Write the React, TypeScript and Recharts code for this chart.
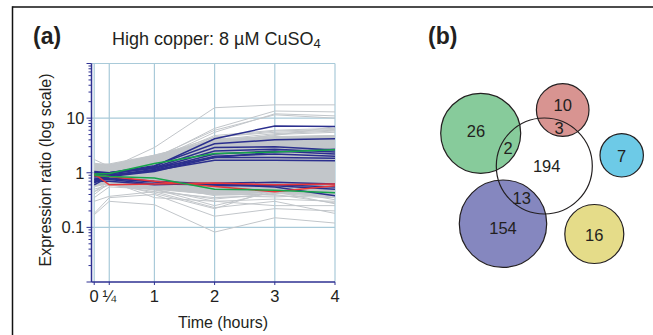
import React from 'react';
import { ComposedChart, Line, Area, XAxis, YAxis, CartesianGrid, ScatterChart, Scatter } from 'recharts';

// ---------- Panel (a) data ----------
const TIMES = [0, 0.25, 1, 2, 3, 4];
const TIME_LABELS = ['0', '¼', '1', '2', '3', '4'];
const Y_TICKS = [
  0.01, 0.02, 0.03, 0.04, 0.05, 0.06, 0.07, 0.08, 0.09,
  0.1, 0.2, 0.3, 0.4, 0.5, 0.6, 0.7, 0.8, 0.9,
  1, 2, 3, 4, 5, 6, 7, 8, 9,
  10, 20, 30, 40, 50, 60, 70, 80, 90, 100,
];
const Y_LABELS = [0.1, 1, 10];
const GRID_Y = [0.1, 1, 10, 100];

// dense core of grey profiles (min / max at each time point)
const BAND_LOW = [0.58, 0.62, 0.5, 0.4, 0.43, 0.38];
const BAND_HIGH = [1.45, 1.45, 2.1, 4.0, 4.5, 4.8];

// individual grey profiles (values at 0, 1/4, 1, 2, 3, 4 h)
const GREY_LINES = [
  [1.1, 1.2, 2.9, 15.5, 17.5, 17.5],
  [1.0, 1.1, 1.8, 6.5, 13.5, 13.0],
  [1.0, 1.1, 1.7, 5.5, 12.0, 11.0],
  [1.05, 1.1, 1.9, 6.0, 11.5, 10.0],
  [1.0, 1.1, 1.7, 4.8, 6.0, 6.5],
  [0.95, 1.05, 1.6, 4.5, 5.5, 6.0],
  [1.0, 1.1, 1.5, 4.0, 5.2, 5.8],
  [0.9, 1.0, 1.4, 3.5, 5.0, 5.5],
  [0.95, 1.0, 1.5, 3.8, 4.8, 7.0],
  [1.05, 1.1, 1.8, 4.2, 4.6, 4.8],
  [1.75, 1.3, 1.5, 2.5, 3.0, 3.5],
  [1.5, 1.35, 2.1, 3.8, 3.5, 3.0],
  [1.2, 1.25, 2.0, 4.5, 5.8, 6.2],
  [0.17, 0.3, 0.26, 0.082, 0.15, 0.12],
  [0.18, 0.35, 0.4, 0.16, 0.22, 0.2],
  [0.3, 0.37, 0.45, 0.23, 0.3, 0.18],
  [0.35, 0.55, 0.5, 0.25, 0.45, 0.27],
  [0.45, 0.6, 0.5, 0.3, 0.33, 0.3],
  [0.5, 0.6, 0.45, 0.35, 0.38, 0.35],
  [0.55, 0.65, 0.42, 0.22, 0.5, 0.32],
  [0.4, 0.65, 0.6, 0.38, 0.36, 0.4],
  [0.6, 0.7, 0.35, 0.3, 0.25, 0.25],
  [0.45, 0.7, 0.52, 0.4, 0.4, 0.28],
  [0.7, 0.62, 0.48, 0.33, 0.42, 0.36],
];

const BLUE_LINES = [
  [0.9, 0.95, 1.3, 4.2, 7.2, 7.0],
  [1.0, 1.0, 1.35, 3.4, 4.0, 4.2],
  [0.85, 0.95, 1.25, 2.9, 3.0, 2.6],
  [0.95, 1.0, 1.2, 2.5, 2.7, 2.4],
  [0.75, 0.9, 1.15, 2.2, 2.5, 2.2],
  [0.65, 0.9, 1.1, 2.0, 2.2, 2.0],
  [0.6, 0.85, 1.05, 1.9, 1.9, 1.85],
  [0.7, 0.88, 1.1, 1.7, 1.7, 1.65],
  [1.05, 1.0, 1.25, 1.9, 2.4, 2.7],
  [0.75, 0.75, 0.62, 0.6, 0.6, 0.55],
  [0.7, 0.7, 0.6, 0.64, 0.67, 0.62],
  [0.8, 0.78, 0.68, 0.58, 0.58, 0.5],
  [0.9, 0.8, 0.7, 0.62, 0.55, 0.38],
];

const GREEN_LINES = [
  [0.95, 0.97, 1.48, 2.25, 2.4, 2.65],
  [0.9, 0.85, 0.8, 0.5, 0.48, 0.43],
];

const RED_LINES = [
  [0.95, 0.6, 0.62, 0.65, 0.6, 0.62],
  [0.88, 0.85, 0.7, 0.56, 0.45, 0.58],
];

// ---------- Panel (b) data ----------
const CIRCLE_NAMES = ['green', 'red', 'cyan', 'purple', 'yellow', 'white'];
const CIRCLE_X = [-6.36, 1.84, 7.74, -4.13, 5.0, 0];
const CIRCLE_Y = [-3.27, -5.6, -1.07, 5.77, 6.8, 0];
const CIRCLE_R = [4.0, 2.63, 2.17, 4.37, 2.95, 4.8];
const CIRCLE_FILLS = ['#87cb9b', '#d89491', '#6dcae7', '#8587bf', '#e5dc89', 'none'];

const REGION_COUNTS = [26, 10, 3, 2, 194, 7, 13, 154, 16];
const REGION_X = [-6.83, 1.84, 1.47, -3.63, 0.24, 7.74, -2.26, -4.13, 5.0];
const REGION_Y = [-3.5, -6.1, -3.8, -1.8, 0, -1.03, 3.2, 6.2, 6.87];

// ---------- styles ----------
const FONT = '"Liberation Sans", Arial, Helvetica, sans-serif';
const TEXT = '#231f20';
const AXIS_BLUE = '#2e3192';
const GRID_BLUE = '#a9cad9';
const GREY = '#c2c6ca';
const BLUE = '#2b2f8e';
const GREEN = '#17a54b';
const RED = '#e8383b';

const VENN_W = 253;
const VENN_H = 335;
const VENN_X_DOMAIN = [-14.43, 10.87];
const VENN_Y_DOMAIN = [-16.6, 16.9];
const PX_PER_UNIT = VENN_W / (VENN_X_DOMAIN[1] - VENN_X_DOMAIN[0]);

const rows = TIMES.map((t, i) => {
  const row: any = { t, band: [BAND_LOW[i], BAND_HIGH[i]] };
  GREY_LINES.forEach((s, k) => (row['g' + k] = s[i]));
  BLUE_LINES.forEach((s, k) => (row['b' + k] = s[i]));
  GREEN_LINES.forEach((s, k) => (row['gr' + k] = s[i]));
  RED_LINES.forEach((s, k) => (row['r' + k] = s[i]));
  return row;
});

const circles = CIRCLE_NAMES.map((name, i) => ({
  name,
  x: CIRCLE_X[i],
  y: CIRCLE_Y[i],
  r: CIRCLE_R[i],
  fill: CIRCLE_FILLS[i],
}));

const regions = REGION_COUNTS.map((c, i) => ({ count: c, x: REGION_X[i], y: REGION_Y[i] }));

const XTick = (props: any) => {
  const { x, y, payload } = props;
  const idx = TIMES.indexOf(payload.value);
  return (
    <g>
      <line x1={x} x2={x} y1={y} y2={y + 3} stroke={AXIS_BLUE} strokeWidth={1} />
      <text x={x} y={y + 20} textAnchor="middle" fontFamily={FONT} fontSize={16.5} fill={TEXT}>
        {TIME_LABELS[idx]}
      </text>
    </g>
  );
};

const YTick = (props: any) => {
  const { x, y, payload } = props;
  const v = payload.value;
  const major = Y_LABELS.includes(v) || v === 0.01 || v === 100;
  return (
    <g>
      <line x1={major ? x - 5 : x - 3} x2={x} y1={y} y2={y} stroke={AXIS_BLUE} strokeWidth={1} />
      {Y_LABELS.includes(v) && (
        <text x={x - 7} y={y + 6} textAnchor="end" fontFamily={FONT} fontSize={16.5} fill={TEXT}>
          {String(v)}
        </text>
      )}
    </g>
  );
};

const fillShape = (p: any) =>
  p.payload.fill === 'none' ? (
    <g />
  ) : (
    <circle cx={p.cx} cy={p.cy} r={p.payload.r * PX_PER_UNIT} fill={p.payload.fill} stroke="none" />
  );

const outlineShape = (p: any) => (
  <circle cx={p.cx} cy={p.cy} r={p.payload.r * PX_PER_UNIT} fill="none" stroke={TEXT} strokeWidth={1.2} />
);

const labelShape = (p: any) => (
  <text x={p.cx} y={p.cy + 6} textAnchor="middle" fontFamily={FONT} fontSize={16.5} fill={TEXT}>
    {p.payload.count}
  </text>
);

export default function App() {
  return (
    <div style={{ position: 'absolute', left: 0, top: 0, width: 653, height: 335, background: '#fff', overflow: 'hidden' }}>
      <div style={{ position: 'absolute', left: 0, top: 0 }}>
        <ComposedChart width={340} height={335} data={rows} margin={{ top: 63.5, right: 5, bottom: 0, left: 0 }}>
          <CartesianGrid
            stroke={GRID_BLUE}
            strokeWidth={1.2}
            horizontalValues={GRID_Y}
            verticalValues={TIMES}
          />
          <XAxis
            dataKey="t"
            type="number"
            domain={[-0.045, 4]}
            allowDataOverflow
            ticks={TIMES}
            interval={0}
            height={53}
            tickSize={0}
            tickMargin={0}
            tick={<XTick />}
            axisLine={{ stroke: AXIS_BLUE, strokeWidth: 1.5 }}
            tickLine={false}
          />
          <YAxis
            type="number"
            scale="log"
            domain={[0.01, 100]}
            allowDataOverflow
            ticks={Y_TICKS}
            interval={0}
            width={91.5}
            tickSize={0}
            tickMargin={0}
            tick={<YTick />}
            axisLine={{ stroke: AXIS_BLUE, strokeWidth: 1.5 }}
            tickLine={false}
          />
          <Area
            dataKey="band"
            type="linear"
            fill={GREY}
            fillOpacity={1}
            stroke={GREY}
            strokeWidth={1}
            isAnimationActive={false}
          />
          {GREY_LINES.map((_, k) => (
            <Line key={'g' + k} dataKey={'g' + k} type="linear" stroke={GREY} strokeWidth={1} dot={false} isAnimationActive={false} />
          ))}
          {BLUE_LINES.map((_, k) => (
            <Line key={'b' + k} dataKey={'b' + k} type="linear" stroke={BLUE} strokeWidth={1.5} dot={false} isAnimationActive={false} />
          ))}
          {RED_LINES.map((_, k) => (
            <Line key={'r' + k} dataKey={'r' + k} type="linear" stroke={RED} strokeWidth={1.5} dot={false} isAnimationActive={false} />
          ))}
          {GREEN_LINES.map((_, k) => (
            <Line key={'gr' + k} dataKey={'gr' + k} type="linear" stroke={GREEN} strokeWidth={1.5} dot={false} isAnimationActive={false} />
          ))}
        </ComposedChart>
      </div>

      <div style={{ position: 'absolute', left: 400, top: 0 }}>
        <ScatterChart width={VENN_W} height={VENN_H} margin={{ top: 0, right: 0, bottom: 0, left: 0 }}>
          <XAxis type="number" dataKey="x" domain={VENN_X_DOMAIN} allowDataOverflow hide />
          <YAxis type="number" dataKey="y" domain={VENN_Y_DOMAIN} allowDataOverflow reversed hide />
          <Scatter data={circles} shape={fillShape} isAnimationActive={false} />
          <Scatter data={circles} shape={outlineShape} isAnimationActive={false} />
          <Scatter data={regions} shape={labelShape} isAnimationActive={false} />
        </ScatterChart>
      </div>

      <svg width={653} height={335} style={{ position: 'absolute', left: 0, top: 0, pointerEvents: 'none' }}>
        <line x1={12.5} y1={7} x2={653} y2={7} stroke="#111" strokeWidth={1.5} />
        <line x1={12.5} y1={6.25} x2={12.5} y2={335} stroke="#111" strokeWidth={1.5} />
        <text x={33} y={43.5} fontFamily={FONT} fontSize={23} fontWeight="bold" fill={TEXT}>(a)</text>
        <text x={112} y={44.5} fontFamily={FONT} fontSize={18} fill={TEXT}>
          High copper: 8 µM CuSO<tspan dy={3.5} fontSize={13}>4</tspan>
        </text>
        <text x={428} y={43.5} fontFamily={FONT} fontSize={23} fontWeight="bold" fill={TEXT}>(b)</text>
        <text
          x={0}
          y={0}
          transform="translate(51,170) rotate(-90)"
          textAnchor="middle"
          fontFamily={FONT}
          fontSize={16}
          fill={TEXT}
        >
          Expression ratio (log scale)
        </text>
        <text x={223} y={328} textAnchor="middle" fontFamily={FONT} fontSize={16} fill={TEXT}>
          Time (hours)
        </text>
      </svg>
    </div>
  );
}
